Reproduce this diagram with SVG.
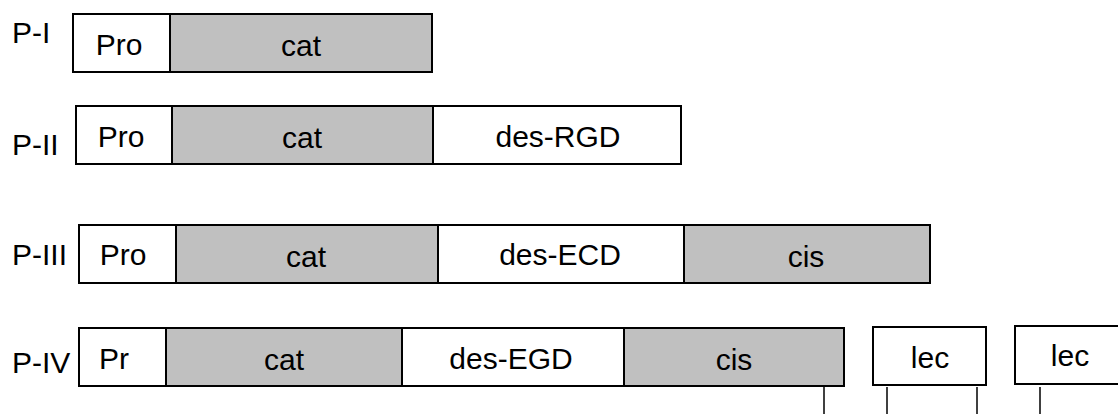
<svg xmlns="http://www.w3.org/2000/svg" width="1118" height="414" viewBox="0 0 1118 414">
<style>
.w{fill:#ffffff;stroke:#000;stroke-width:2}
.g{fill:#c0c0c0;stroke:#000;stroke-width:2}
text{font-family:"Liberation Sans",Arial,sans-serif;font-size:30px;fill:#000}
.c{text-anchor:middle}
.ln{stroke:#000;stroke-width:1.5;fill:none}
</style>
<rect width="1118" height="414" fill="#ffffff"/>
<g id="label-PI"><text x="12" y="43">P-I</text></g>
<g id="PI-pro"><rect class="w" x="73" y="14" width="97" height="58"/><text class="c" x="119" y="55">Pro</text></g>
<g id="PI-cat"><rect class="g" x="170" y="14" width="262" height="58"/><text class="c" x="301" y="56">cat</text></g>

<g id="label-PII"><text x="12" y="155">P-II</text></g>
<g id="PII-pro"><rect class="w" x="76" y="106" width="96" height="58"/><text class="c" x="121" y="147">Pro</text></g>
<g id="PII-cat"><rect class="g" x="172" y="106" width="261" height="58"/><text class="c" x="302" y="148">cat</text></g>
<g id="PII-des"><rect class="w" x="433" y="106" width="248" height="58"/><text class="c" x="558" y="147">des-RGD</text></g>

<g id="label-PIII"><text x="12" y="265">P-III</text></g>
<g id="PIII-pro"><rect class="w" x="79" y="225" width="97" height="58"/><text class="c" x="123" y="265">Pro</text></g>
<g id="PIII-cat"><rect class="g" x="176" y="225" width="262" height="58"/><text class="c" x="306" y="267">cat</text></g>
<g id="PIII-des"><rect class="w" x="438" y="225" width="246" height="58"/><text class="c" x="560" y="265">des-ECD</text></g>
<g id="PIII-cis"><rect class="g" x="684" y="225" width="246" height="58"/><text class="c" x="806" y="267">cis</text></g>

<g id="label-PIV"><text x="12" y="373">P-IV</text></g>
<g id="PIV-pr"><rect class="w" x="79" y="328" width="87" height="58"/><text class="c" x="114" y="369">Pr</text></g>
<g id="PIV-cat"><rect class="g" x="166" y="328" width="236" height="58"/><text class="c" x="284" y="370">cat</text></g>
<g id="PIV-des"><rect class="w" x="402" y="328" width="222" height="58"/><text class="c" x="511" y="369">des-EGD</text></g>
<g id="PIV-cis"><rect class="g" x="624" y="328" width="220" height="58"/><text class="c" x="734" y="370">cis</text></g>
<g id="PIV-lec1"><rect class="w" x="873" y="327" width="113" height="58"/><text class="c" x="930" y="368">lec</text></g>
<g id="PIV-lec2"><rect class="w" x="1015" y="326" width="115" height="58"/><text class="c" x="1070" y="366">lec</text></g>

<g id="connectors">
<line class="ln" x1="824" y1="387" x2="824" y2="414"/>
<line class="ln" x1="887" y1="387" x2="887" y2="414"/>
<line class="ln" x1="977" y1="387" x2="977" y2="414"/>
<line class="ln" x1="1040" y1="387" x2="1040" y2="414"/>
</g>
</svg>
